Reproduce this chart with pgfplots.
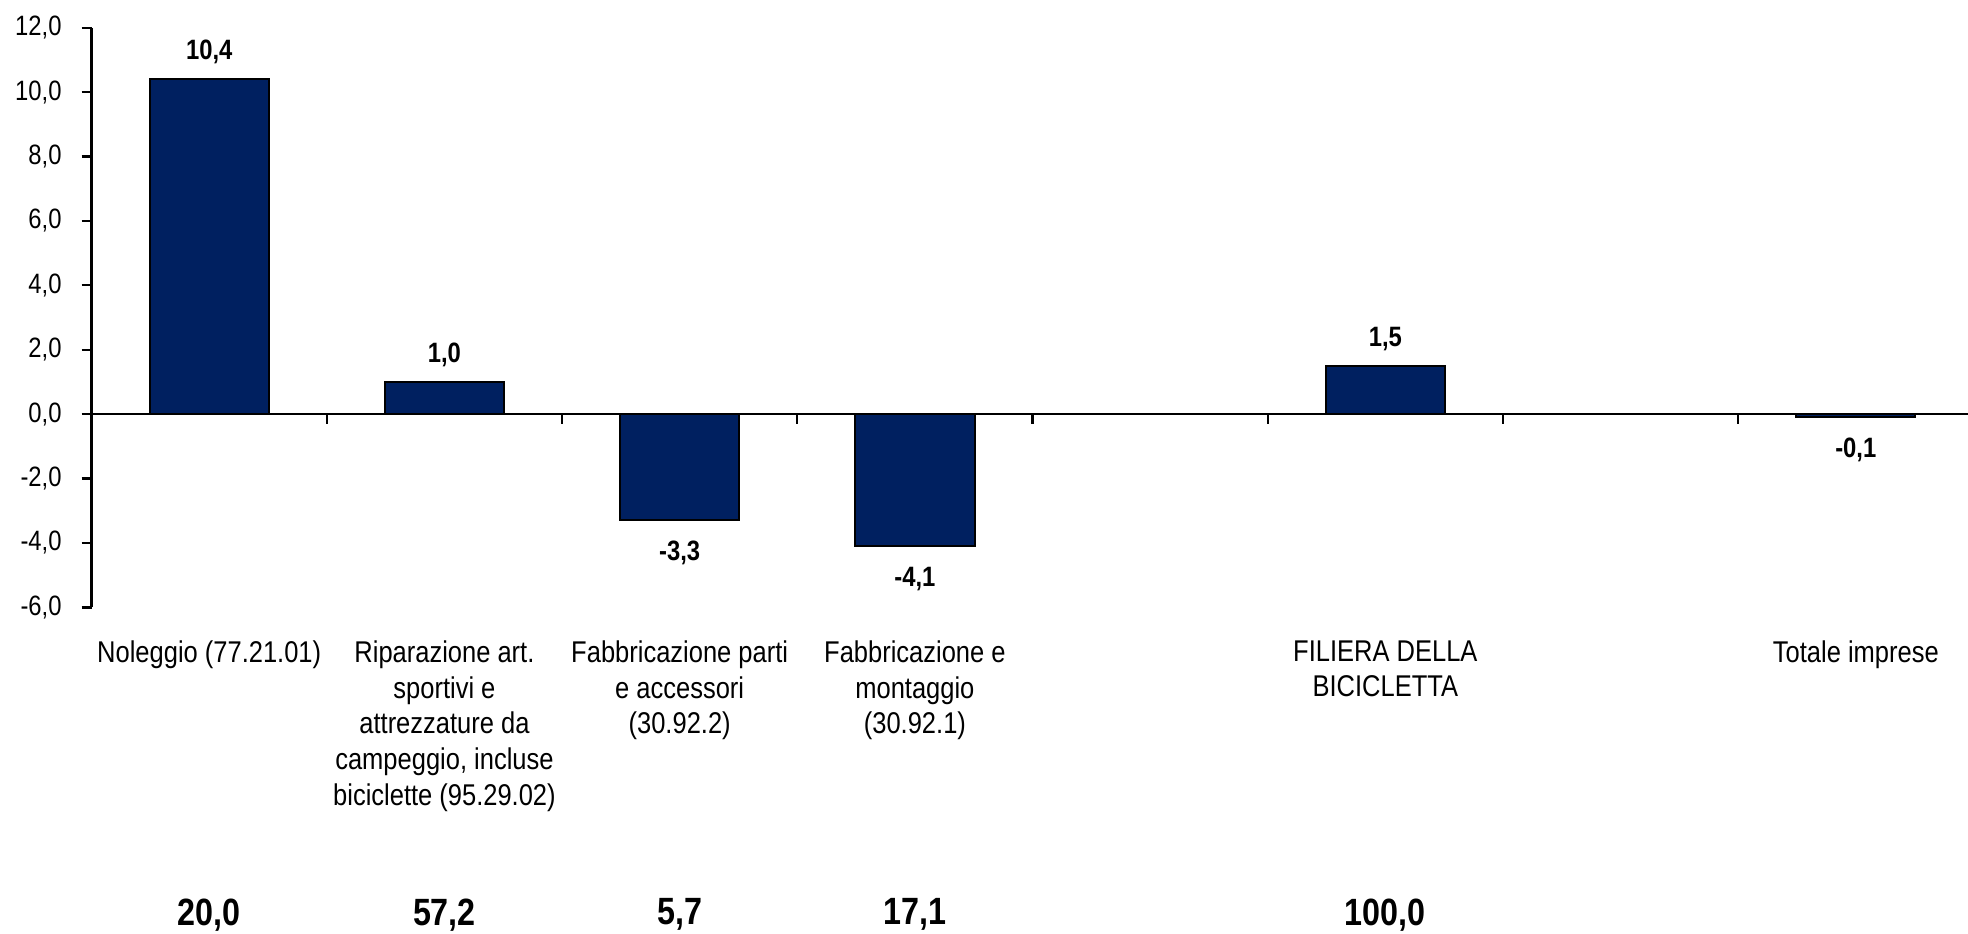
\documentclass[border=0pt]{standalone}
\usepackage{fontspec}
\setmainfont{Liberation Sans}[FakeStretch=0.85]
\usepackage{pgfplots}
\pgfplotsset{compat=1.18}
\definecolor{barblue}{RGB}{0,32,96}
\begin{document}
\begin{tikzpicture}
\begin{axis}[
  name=ax,
  at={(0,0)}, anchor=south west,
  width=938.2pt, height=289.9pt, scale only axis,
  xmin=-0.5, xmax=7.477, ymin=-6, ymax=12,
  ybar, bar width=59.6pt, bar shift=0pt,
  axis y line*=left, axis x line*=bottom,
  x axis line style={draw=none},
  y axis line style={line width=1.3pt},
  tick align=outside,
  major tick length=5pt,
  ytick={-6,-4,-2,0,2,4,6,8,10,12},
  yticklabels={{-6,0},{-4,0},{-2,0},{0,0},{2,0},{4,0},{6,0},{8,0},{10,0},{12,0}},
  y tick style={line width=1.1pt, black},
  yticklabel style={font=\fontsize{14}{16}\selectfont, xshift=-6.5pt},
  xtick={0,1,2,3,4,5,6,7},
  xticklabels={{Noleggio (77.21.01)},{Riparazione art.\\sportivi e\\attrezzature da\\campeggio, incluse\\biciclette (95.29.02)},{Fabbricazione parti\\e accessori\\(30.92.2)},{Fabbricazione e\\montaggio\\(30.92.1)},{},{FILIERA DELLA\\BICICLETTA},{},{Totale imprese}},
  x tick style={draw=none},
  xticklabel style={align=center, font=\fontsize{15}{17.9}\selectfont, yshift=-8pt},
  extra x ticks={0,1,2,3,5},
  extra x tick labels={{20,0},{57,2},{5,7},{17,1},{100,0}},
  extra x tick style={x tick style={draw=none}, xticklabel style={yshift=-129pt, font=\bfseries\fontsize{19}{22}\selectfont}},
  clip=false,
]
\addplot[fill=barblue, draw=black, line width=1pt,
  nodes near coords, point meta=explicit symbolic,
  every node near coord/.append style={anchor=south, font=\bfseries\fontsize{14}{16}\selectfont, inner ysep=7pt, black}]
  table[meta=lab] {
x y lab
0 10.4 10,4
1 1.0 1,0
5 1.5 1,5
};
\addplot[fill=barblue, draw=black, line width=1pt,
  nodes near coords, point meta=explicit symbolic,
  every node near coord/.append style={anchor=north, font=\bfseries\fontsize{14}{16}\selectfont, inner ysep=10pt, black}]
  table[meta=lab] {
x y lab
2 -3.3 -3,3
3 -4.1 -4,1
7 -0.1 -0,1
};
\draw[line width=1.3pt] (axis cs:-0.5,0) -- (axis cs:7.477,0);
\pgfplotsinvokeforeach{0.5,1.5,2.5,3.5,4.5,5.5,6.5}{
  \draw[line width=1.1pt] (axis cs:#1,0) -- ([yshift=-5pt]axis cs:#1,0);
}
\end{axis}
\pgfresetboundingbox
\path[use as bounding box] ([xshift=-45.8pt,yshift=-162.8pt]ax.south west) rectangle ([yshift=13.8pt]ax.north east);
\end{tikzpicture}
\end{document}
